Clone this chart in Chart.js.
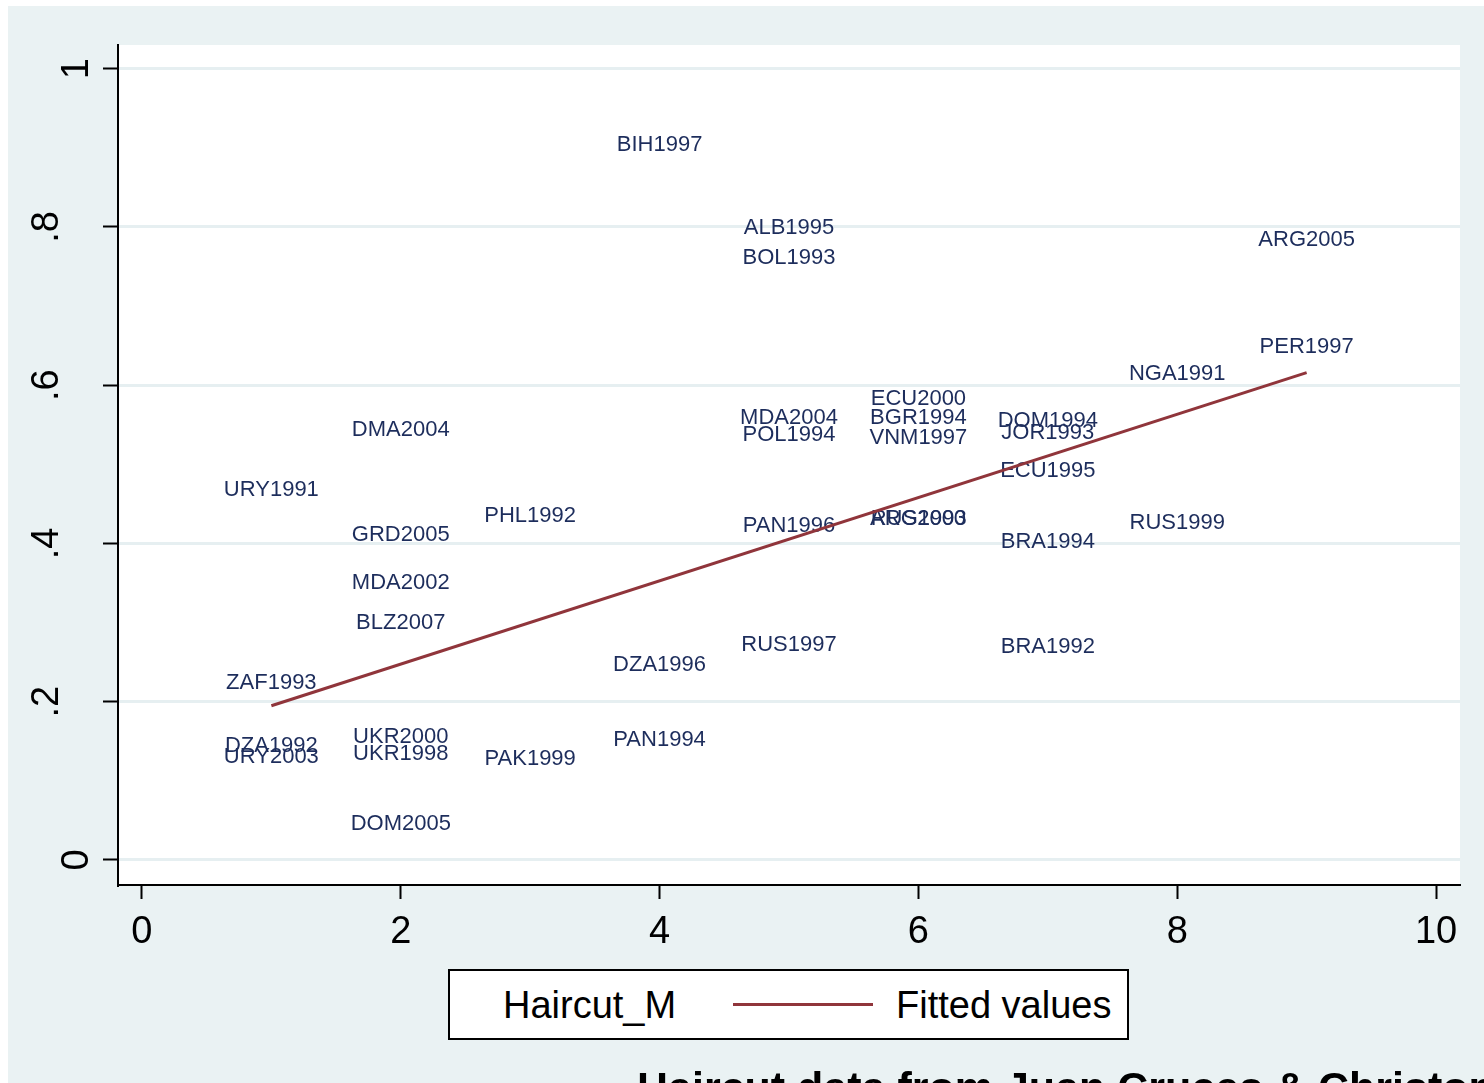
<!DOCTYPE html>
<html>
<head>
<meta charset="utf-8">
<script src="https://cdn.jsdelivr.net/npm/chart.js@4/dist/chart.umd.min.js"></script>
<style>
  html, body { margin: 0; padding: 0; background: #ffffff; }
  #wrap { position: relative; width: 1484px; height: 1083px; overflow: hidden; }
  #chart { position: absolute; left: 0; top: 0; }
  .legend {
    position: absolute; left: 448px; top: 969px; width: 677px; height: 67px;
    border: 2px solid #000; background: #ffffff;
    font-family: "Liberation Sans", Arial, sans-serif; font-size: 38px; color: #000;
  }
  .legend .item { position: absolute; top: 14px; line-height: 40px; white-space: nowrap; }
  .legend .swatch { position: absolute; top: 32px; height: 3px; background: #90353b; }
  .note {
    position: absolute; left: 637px; top: 1062px; white-space: nowrap;
    font-family: "Liberation Sans", Arial, sans-serif; font-weight: bold; font-size: 43px; color: #000;
    line-height: 50px;
  }
</style>
</head>
<body>
<div id="wrap">
  <canvas id="chart" width="1484" height="1083"></canvas>
  <div class="legend">
    <span class="item" style="left:53px">Haircut_M</span>
    <span class="swatch" style="left:283px; width:140px"></span>
    <span class="item" style="left:446px">Fitted values</span>
  </div>
  <div class="note">Haircut data from Juan Cruces &amp; Christoph Trebesch</div>
</div>
<script>
// Country-episode labels, their x values and haircut (Haircut_M)
const names = [
  "URY1991", "ZAF1993", "DZA1992", "URY2003",
  "DMA2004", "GRD2005", "MDA2002", "BLZ2007", "UKR2000", "UKR1998", "DOM2005",
  "PHL1992", "PAK1999",
  "BIH1997", "DZA1996", "PAN1994",
  "ALB1995", "BOL1993", "MDA2004", "POL1994", "PAN1996", "RUS1997",
  "ECU2000", "BGR1994", "VNM1997", "ARG1993", "RUS2000",
  "DOM1994", "JOR1993", "ECU1995", "BRA1994", "BRA1992",
  "NGA1991", "RUS1999",
  "ARG2005", "PER1997"
];
const xValues = [
  1, 1, 1, 1,
  2, 2, 2, 2, 2, 2, 2,
  3, 3,
  4, 4, 4,
  5, 5, 5, 5, 5, 5,
  6, 6, 6, 6, 6,
  7, 7, 7, 7, 7,
  8, 8,
  9, 9
];
const haircut = [
  0.470, 0.226, 0.147, 0.133,
  0.546, 0.413, 0.353, 0.302, 0.158, 0.137, 0.048,
  0.437, 0.130,
  0.906, 0.249, 0.154,
  0.801, 0.764, 0.561, 0.540, 0.425, 0.274,
  0.585, 0.561, 0.536, 0.434, 0.434,
  0.558, 0.542, 0.494, 0.405, 0.272,
  0.617, 0.429,
  0.786, 0.651
];
// Linear fit evaluated at the ends of the x range
const fitX = [1, 9];
const fitY = [0.195, 0.616];
// Axis ticks
const xTicks = [0, 2, 4, 6, 8, 10];
const yTicks = [0, 0.2, 0.4, 0.6, 0.8, 1];
const yTickLabels = ["0", ".2", ".4", ".6", ".8", "1"];

const FONT = '"Liberation Sans", Arial, sans-serif';
const BG = '#eaf2f3';

const backdrop = {
  id: 'backdrop',
  beforeDraw(chart) {
    const { ctx, chartArea: a } = chart;
    ctx.save();
    ctx.fillStyle = '#ffffff';
    ctx.fillRect(0, 0, chart.width, chart.height);
    ctx.fillStyle = BG;
    ctx.fillRect(8, 6, chart.width - 8, chart.height - 6);
    ctx.fillStyle = '#ffffff';
    ctx.fillRect(a.left, a.top, a.right - a.left, a.bottom - a.top);
    ctx.restore();
  }
};

// Marker labels centred on each point, drawn under the fitted line
const pointLabels = {
  id: 'pointLabels',
  beforeDatasetsDraw(chart) {
    const { ctx, scales: { x, y } } = chart;
    ctx.save();
    ctx.font = '22px ' + FONT;
    ctx.fillStyle = '#1d2d5c';
    ctx.textAlign = 'center';
    ctx.textBaseline = 'middle';
    names.forEach((n, i) => {
      ctx.fillText(n, x.getPixelForValue(xValues[i]), y.getPixelForValue(haircut[i]) + 2);
    });
    ctx.restore();
  }
};

// Vertical axis labels, rotated to read bottom-to-top
const yLabels = {
  id: 'yLabels',
  afterDraw(chart) {
    const { ctx, scales: { y } } = chart;
    ctx.save();
    ctx.font = '38px ' + FONT;
    ctx.fillStyle = '#000';
    ctx.textAlign = 'center';
    ctx.textBaseline = 'alphabetic';
    yTicks.forEach((v, i) => {
      const lbl = yTickLabels[i];
      const bx = lbl.startsWith('.') ? 58 : 88;
      ctx.save();
      ctx.translate(bx, y.getPixelForValue(v));
      ctx.rotate(-Math.PI / 2);
      ctx.fillText(lbl, 0, 0);
      ctx.restore();
    });
    ctx.restore();
  }
};

const points = names.map((n, i) => ({ x: xValues[i], y: haircut[i] }));
const fitted = fitX.map((v, i) => ({ x: v, y: fitY[i] }));

new Chart(document.getElementById('chart'), {
  type: 'scatter',
  data: {
    datasets: [
      { label: 'Haircut_M', data: points, pointRadius: 0, pointHoverRadius: 0, showLine: false },
      { type: 'line', label: 'Fitted values', data: fitted, borderColor: '#90353b', borderWidth: 3,
        pointRadius: 0, fill: false, tension: 0 }
    ]
  },
  options: {
    responsive: false,
    animation: false,
    devicePixelRatio: 1,
    events: [],
    layout: { padding: { left: 0, top: 45, right: 24, bottom: 138 } },
    plugins: { legend: { display: false }, tooltip: { enabled: false } },
    scales: {
      x: {
        type: 'linear', min: -0.185, max: 10.185,
        afterBuildTicks: s => { s.ticks = xTicks.map(v => ({ value: v })); },
        afterFit: s => { s.height = 60; },
        grid: { drawOnChartArea: false, tickLength: 14, tickWidth: 2, tickColor: '#000' },
        border: { color: '#000', width: 2 },
        ticks: { font: { family: FONT, size: 38 }, color: '#000', padding: 11, maxRotation: 0, autoSkip: false }
      },
      y: {
        type: 'linear', min: -0.0316, max: 1.030,
        afterBuildTicks: s => { s.ticks = yTicks.map(v => ({ value: v })); },
        afterFit: s => { s.width = 118; },
        grid: { color: '#e6eff1', lineWidth: 3, tickLength: 15, tickWidth: 2, tickColor: '#000' },
        border: { color: '#000', width: 2 },
        ticks: { color: 'rgba(0,0,0,0)', font: { family: FONT, size: 38 }, autoSkip: false }
      }
    }
  },
  plugins: [backdrop, pointLabels, yLabels]
});
</script>
</body>
</html>
